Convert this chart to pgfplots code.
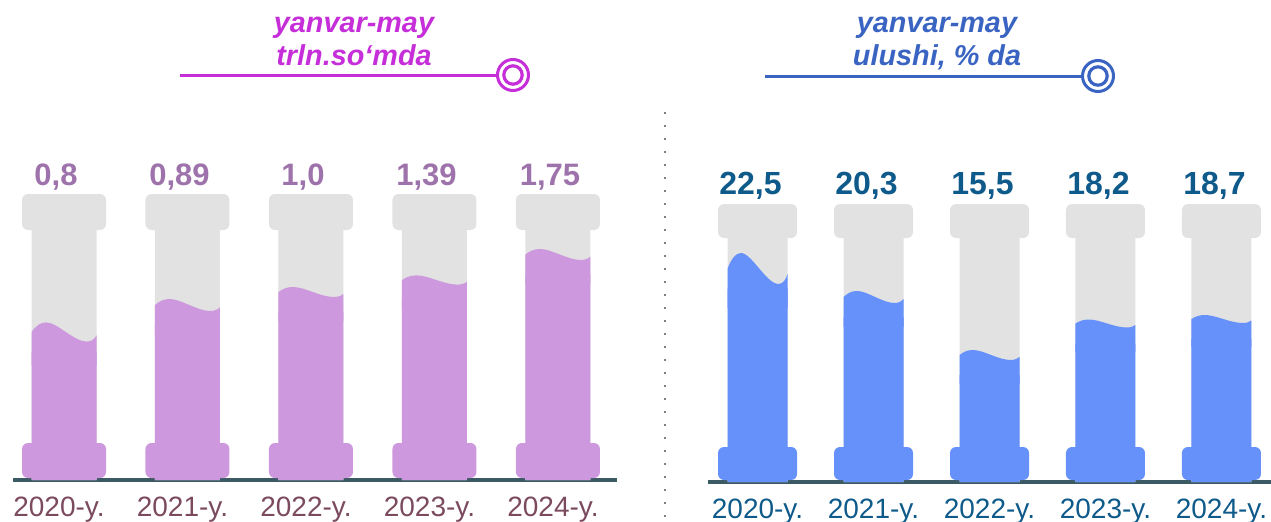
\documentclass[border=0pt]{standalone}
\usepackage{fontspec}
\setmainfont{Liberation Sans}
\usepackage{pgfplots}
\usepackage{pgfplotstable}
\pgfplotsset{compat=1.18}

\definecolor{titleL}{HTML}{C52ED8}
\definecolor{titleR}{HTML}{3A64C2}
\definecolor{fillL}{HTML}{CD98DE}
\definecolor{fillR}{HTML}{6690FA}
\definecolor{tube}{HTML}{E2E2E2}
\definecolor{baseC}{HTML}{3B5A63}
\definecolor{valL}{HTML}{9E73AB}
\definecolor{valR}{HTML}{0E5A8A}
\definecolor{catL}{HTML}{7B4A5E}
\definecolor{catR}{HTML}{0E5A8A}

\def\wampl{3}
\newcommand\roundrectmark[3]{%
 \pgfsetcornersarced{\pgfpoint{#3}{#3}}%
 \pgfpathmoveto{\pgfpoint{0pt}{-#2}}%
 \pgfpathlineto{\pgfpoint{#1}{-#2}}%
 \pgfpathlineto{\pgfpoint{#1}{#2}}%
 \pgfpathlineto{\pgfpoint{-#1}{#2}}%
 \pgfpathlineto{\pgfpoint{-#1}{-#2}}%
 \pgfpathclose
 \pgfusepath{fill}}
\newcommand\wavepath[1]{%
 \pgfpathmoveto{\pgfpoint{-#1}{0pt}}%
 \pgfpathcurveto{\pgfpoint{-0.85*#1}{0.7*\wampl*1pt}}{\pgfpoint{-0.72*#1}{\wampl*1pt}}{\pgfpoint{-0.55*#1}{\wampl*1pt}}%
 \pgfpathcurveto{\pgfpoint{-0.2*#1}{\wampl*1pt}}{\pgfpoint{0.3*#1}{-\wampl*1pt}}{\pgfpoint{0.7*#1}{-\wampl*1pt}}%
 \pgfpathcurveto{\pgfpoint{0.85*#1}{-\wampl*1pt}}{\pgfpoint{0.95*#1}{-0.7*\wampl*1pt}}{\pgfpoint{#1}{-0.35*\wampl*1pt}}%
 \pgfpathlineto{\pgfpoint{#1}{-\wampl*1pt-12pt}}%
 \pgfpathlineto{\pgfpoint{-#1}{-\wampl*1pt-12pt}}%
 \pgfpathclose
 \pgfusepath{fill}}
\pgfdeclareplotmark{capLtop}{\roundrectmark{21pt}{9pt}{3pt}}
\pgfdeclareplotmark{capLbot}{\roundrectmark{21pt}{8.75pt}{3pt}}
\pgfdeclareplotmark{capRtop}{\roundrectmark{19.75pt}{8.5pt}{3pt}}
\pgfdeclareplotmark{capRbot}{\roundrectmark{19.75pt}{8.25pt}{3pt}}
\pgfdeclareplotmark{waveL}{\wavepath{16.25pt}}
\pgfdeclareplotmark{waveR}{\wavepath{15pt}}

% x: column index, lvl: visual fill level (px above baseline), amp: wave amplitude (pt), lab: value
\pgfplotstableread{
x lvl amp lab
0 148 4.8 {0,8}
1 175 3.0 {0,89}
2 188 2.5 {1,0}
3 200 2.3 {1,39}
4 225.5 2.75 {1,75}
}\leftdata
\pgfplotstableread{
x lvl amp lab
0 213.5 7.75 {22,5}
1 185 3.0 {20,3}
2 127 2.5 {15,5}
3 158.5 2.0 {18,2}
4 163 2.0 {18,7}
}\rightdata

\begin{document}
\begin{tikzpicture}
\path[use as bounding box] (0,0) rectangle (635.5pt,260.5pt);

% ---------- left panel ----------
\begin{axis}[
  at={(6.5pt,20.5pt)}, anchor=south west,
  scale only axis, width=302pt, height=165pt,
  xmin=-0.413, xmax=4.478, ymin=0, ymax=330,
  axis x line*=bottom, axis y line=none,
  axis line style={-, line width=2pt, baseC},
  xtick={0,1,2,3,4},
  xticklabels={2020-y.,2021-y.,2022-y.,2023-y.,2024-y.},
  major tick length=0pt,
  xticklabel style={font=\fontsize{14}{16}\selectfont, text=catL, anchor=base, yshift=-18pt, xshift=-2.5pt},
  ytick=\empty,
  clip=false,
]
\addplot[ybar, bar width=32.5pt, bar shift=0pt, fill=tube, draw=none] table[x=x, y expr=250] {\leftdata};
\addplot[ybar, bar width=32.5pt, bar shift=0pt, fill=fillL, draw=none] table[x=x, y expr=\thisrow{lvl}-20] {\leftdata};
\addplot[scatter, only marks, mark=waveL, scatter/use mapped color={draw=none, fill=fillL},
  visualization depends on={\thisrow{amp}\as\wampl}] table[x=x, y=lvl] {\leftdata};
\addplot[only marks, mark=capLbot, mark options={draw=none, fill=fillL}] table[x=x, y expr=19.5] {\leftdata};
\addplot[only marks, mark=capLtop, mark options={draw=none, fill=tube},
  point meta=explicit symbolic, nodes near coords,
  nodes near coords style={font=\bfseries\fontsize{15.5}{18}\selectfont, text=valL, inner sep=0pt, text depth=0pt, anchor=south, yshift=13pt, xshift=-4pt}]
  table[x=x, y expr=268, meta=lab] {\leftdata};
\end{axis}

% ---------- right panel ----------
\begin{axis}[
  at={(354pt,19.5pt)}, anchor=south west,
  scale only axis, width=281.5pt, height=165pt,
  xmin=-0.427, xmax=4.427, ymin=0, ymax=330,
  axis x line*=bottom, axis y line=none,
  axis line style={-, line width=2pt, baseC},
  xtick={0,1,2,3,4},
  xticklabels={2020-y.,2021-y.,2022-y.,2023-y.,2024-y.},
  major tick length=0pt,
  xticklabel style={font=\fontsize{14}{16}\selectfont, text=catR, anchor=base, yshift=-18pt},
  ytick=\empty,
  clip=false,
]
\addplot[ybar, bar width=30pt, bar shift=0pt, fill=tube, draw=none] table[x=x, y expr=244] {\rightdata};
\addplot[ybar, bar width=30pt, bar shift=0pt, fill=fillR, draw=none] table[x=x, y expr=\thisrow{lvl}-20] {\rightdata};
\addplot[scatter, only marks, mark=waveR, scatter/use mapped color={draw=none, fill=fillR},
  visualization depends on={\thisrow{amp}\as\wampl}] table[x=x, y=lvl] {\rightdata};
\addplot[only marks, mark=capRbot, mark options={draw=none, fill=fillR}] table[x=x, y expr=18.5] {\rightdata};
\addplot[only marks, mark=capRtop, mark options={draw=none, fill=tube},
  point meta=explicit symbolic, nodes near coords,
  nodes near coords style={font=\bfseries\fontsize{16}{18}\selectfont, text=valR, inner sep=0pt, text depth=0pt, anchor=south, yshift=13pt, xshift=-3.5pt}]
  table[x=x, y expr=261, meta=lab] {\rightdata};
\end{axis}

% ---------- titles and decorations ----------
\node[anchor=base, text=titleL, font=\bfseries\itshape\fontsize{14.4}{16}\selectfont, inner sep=0pt] at (177pt,244pt) {yanvar-may};
\node[anchor=base, text=titleL, font=\bfseries\itshape\fontsize{14.4}{16}\selectfont, inner sep=0pt] at (177pt,228pt) {trln.so‘mda};
\draw[titleL, line width=1.5pt] (90pt,223pt) -- (248pt,223pt);
\draw[titleL, line width=1.5pt] (256.5pt,223pt) circle[radius=7.75pt];
\draw[titleL, line width=1.6pt] (256.5pt,223pt) circle[radius=4.6pt];

\node[anchor=base, text=titleR, font=\bfseries\itshape\fontsize{14.4}{16}\selectfont, inner sep=0pt] at (468.5pt,244pt) {yanvar-may};
\node[anchor=base, text=titleR, font=\bfseries\itshape\fontsize{14.4}{16}\selectfont, inner sep=0pt] at (468.5pt,228pt) {ulushi, \% da};
\draw[titleR, line width=1.5pt] (382.5pt,222.5pt) -- (540.5pt,222.5pt);
\draw[titleR, line width=1.5pt] (549pt,222.5pt) circle[radius=7.75pt];
\draw[titleR, line width=1.6pt] (549pt,222.5pt) circle[radius=4.6pt];

\draw[gray, line width=1.2pt, dash pattern=on 1.2pt off 5.3pt] (332.5pt,204.5pt) -- (332.5pt,0pt);
\end{tikzpicture}
\end{document}
